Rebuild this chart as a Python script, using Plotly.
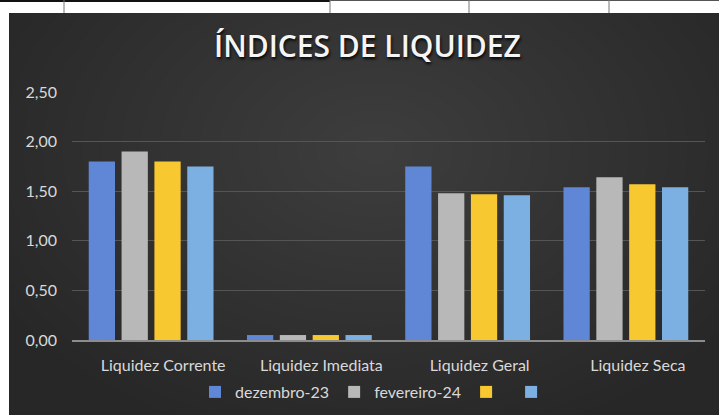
import plotly.graph_objects as go

categories = ["Liquidez Corrente", "Liquidez Imediata", "Liquidez Geral", "Liquidez Seca"]
series_names = ["dezembro-23", "fevereiro-24", "", " "]
dez23 = [1.80, 0.05, 1.75, 1.54]
fev24 = [1.90, 0.05, 1.48, 1.64]
serie3 = [1.80, 0.05, 1.47, 1.57]
serie4 = [1.75, 0.05, 1.46, 1.54]
y_ticks = [0, 0.5, 1.0, 1.5, 2.0, 2.5]

colors = ["#5f87d5", "#b8b8b8", "#f8c830", "#7cb0e2"]

W, H = 719, 415
L, R, T, B = 72, 14, 92, 75
PW, PH = W - L - R, H - T - B


def px(x):
    return (x - L) / PW


def py(y):
    return (H - B - y) / PH


fig = go.Figure()
for name, vals, c in zip(series_names, [dez23, fev24, serie3, serie4], colors):
    fig.add_trace(go.Bar(x=categories, y=vals, name=name, marker=dict(color=c, line=dict(width=0))))

shapes = []
# radial light glow over the dark paper
n = 22
for i in range(n):
    f = 1 - i / n
    rx, ry = 430 * f, 300 * f
    cx, cy = 375, 150
    shapes.append(dict(type="circle", xref="paper", yref="paper",
                       x0=px(cx - rx), x1=px(cx + rx), y0=py(cy + ry), y1=py(cy - ry),
                       fillcolor="rgba(255,255,255,0.0085)", line=dict(width=0), layer="below"))
# white strip on top, white column on the left, and table lines
shapes.append(dict(type="rect", xref="paper", yref="paper", x0=px(-5), x1=px(W + 5), y0=py(13), y1=py(-5),
                   fillcolor="white", line=dict(width=0), layer="below"))
shapes.append(dict(type="rect", xref="paper", yref="paper", x0=px(-5), x1=px(9), y0=py(H + 5), y1=py(-5),
                   fillcolor="white", line=dict(width=0), layer="below"))
shapes.append(dict(type="line", xref="paper", yref="paper", x0=px(0), x1=px(330), y0=py(1), y1=py(1),
                   line=dict(color="#111111", width=2), layer="below"))
shapes.append(dict(type="line", xref="paper", yref="paper", x0=px(330), x1=px(W), y0=py(0.5), y1=py(0.5),
                   line=dict(color="#555555", width=1), layer="below"))
for vx in [64, 330, 469, 609]:
    shapes.append(dict(type="line", xref="paper", yref="paper", x0=px(vx), x1=px(vx), y0=py(0), y1=py(13),
                       line=dict(color="#777777", width=1), layer="below"))

fig.update_layout(
    width=W, height=H,
    margin=dict(l=L, r=R, t=T, b=B, autoexpand=False),
    paper_bgcolor="#272727",
    plot_bgcolor="rgba(0,0,0,0)",
    separators=",.",
    barmode="group",
    bargap=0.17,
    bargroupgap=0.2,
    shapes=shapes,
    showlegend=True,
    legend=dict(orientation="h", x=px(378), xanchor="center", y=py(392), yanchor="middle",
                font=dict(family="Lato", size=16, color="#d9d9d9"), bgcolor="rgba(0,0,0,0)",
                itemwidth=30, traceorder="normal"),
    annotations=[dict(text="ÍNDICES DE LIQUIDEZ", xref="paper", yref="paper", x=px(367), y=py(45),
                      xanchor="center", yanchor="middle", showarrow=False,
                      font=dict(family="Open Sans", size=30, weight=600, color="#f5f5f5",
                                shadow="1px 2px 3px rgba(0,0,0,0.9)"))],
    font=dict(family="Lato", color="#d9d9d9"),
)
fig.update_yaxes(range=[0, 2.5], tickvals=y_ticks, tickformat=".2f", showgrid=True, gridcolor="#555555",
                 gridwidth=1, zeroline=False, showline=False, ticks="", ticklabelstandoff=14,
                 tickfont=dict(family="Lato", size=16, color="#d9d9d9"), fixedrange=True)
fig.update_xaxes(showline=True, linecolor="#8c8c8c", linewidth=2, ticks="", ticklabelstandoff=10,
                 ticklabelshift=12,
                 tickfont=dict(family="Lato", size=16, color="#d9d9d9"), fixedrange=True)

fig.write_html("out.html", config={"displayModeBar": False},
               post_script=("document.body.style.margin='0';"
                            "document.body.style.overflow='hidden';"
                            "document.documentElement.style.overflow='hidden';"
                            "document.documentElement.style.scrollbarWidth='none';"
                            "document.body.style.scrollbarWidth='none';"
                            "document.body.style.background='#272727';"
                            "window.scrollTo(0,0);"))
